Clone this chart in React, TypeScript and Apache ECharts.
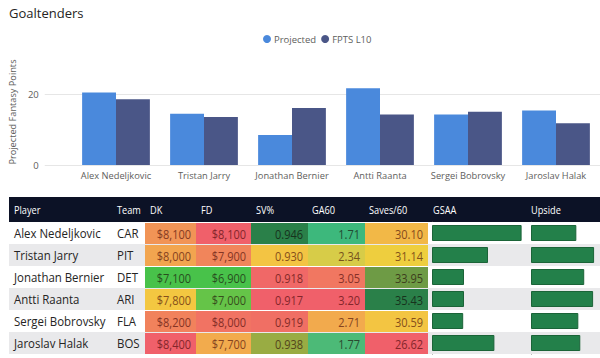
import React, { useEffect, useRef } from 'react';
import * as echarts from 'echarts';

const players = ['Alex Nedeljkovic', 'Tristan Jarry', 'Jonathan Bernier', 'Antti Raanta', 'Sergei Bobrovsky', 'Jaroslav Halak'];
const teams = ['CAR', 'PIT', 'DET', 'ARI', 'FLA', 'BOS'];
const projected = [20.5, 14.5, 8.5, 21.7, 14.3, 15.4];
const fptsL10 = [18.6, 13.6, 16.1, 14.3, 15.1, 11.8];
const dk = [8100, 8000, 7100, 7800, 8200, 8400];
const fd = [8100, 7900, 6900, 7000, 8000, 7700];
const svPct = [0.946, 0.930, 0.918, 0.917, 0.919, 0.938];
const ga60 = [1.71, 2.34, 3.05, 3.20, 2.71, 1.77];
const saves60 = [30.10, 31.14, 33.95, 35.43, 30.59, 26.62];
const gsaa = [5.6, 3.5, 2.0, 2.0, 1.95, 3.9];
const upside = [46, 64, 54, 63, 48, 50];
const headers = ['Player', 'Team', 'DK', 'FD', 'SV%', 'GA60', 'Saves/60', 'GSAA', 'Upside'];

const FONT = "'Segoe UI', 'Open Sans', sans-serif";
const TXT = '#252423';
const AX = '#605e5c';

const money = (v: number) => '$' + Math.floor(v / 1000) + ',' + String(v % 1000).padStart(3, '0');

const RED = '#f0606a';
const YEL = '#f3d03e';
const GRN = '#48c24a';
const DGRN = '#2a8049';
const TEAL = '#3db87c';

const heatCols = [
  { key: 'DK', data: dk, fmt: money, colors: [GRN, YEL, RED], left: 145, width: 51 },
  { key: 'FD', data: fd, fmt: money, colors: [GRN, YEL, RED], left: 196, width: 55 },
  { key: 'SV%', data: svPct, fmt: (v: number) => v.toFixed(3), colors: [RED, YEL, DGRN], left: 251, width: 57 },
  { key: 'GA60', data: ga60, fmt: (v: number) => v.toFixed(2), colors: [TEAL, YEL, RED], left: 308, width: 57 },
  { key: 'Saves/60', data: saves60, fmt: (v: number) => v.toFixed(2), colors: [RED, YEL, DGRN], left: 365, width: 63 },
];

const headerX = [14, 117, 150, 201, 256, 312, 369, 433, 531];

function parseColor(c: string): number[] {
  if (c.startsWith('#')) {
    const h = c.slice(1);
    return [parseInt(h.slice(0, 2), 16), parseInt(h.slice(2, 4), 16), parseInt(h.slice(4, 6), 16)];
  }
  const m = c.match(/[\d.]+/g) || ['0', '0', '0'];
  return [Number(m[0]), Number(m[1]), Number(m[2])];
}
function darken(c: string): string {
  const [r, g, b] = parseColor(c);
  return `rgb(${Math.round(r * 0.55)},${Math.round(g * 0.4)},${Math.round(b * 0.4)})`;
}

export default function App() {
  const ref = useRef<HTMLDivElement>(null);
  useEffect(() => {
    if (!ref.current) return;
    const chart = echarts.init(ref.current, undefined, { renderer: 'svg' });

    const TABLE_TOP = 222;
    const ROW_H = 22;
    const TABLE_H = ROW_H * players.length;

    const grids: any[] = [
      { left: 43, right: 0, top: 59, height: 106 },
      { left: 72, right: 0, top: 59, height: 106 },
      { left: 9, right: 0, top: TABLE_TOP, height: TABLE_H },
      ...heatCols.map((h) => ({ left: h.left, width: h.width, top: TABLE_TOP, height: TABLE_H })),
      { left: 432, width: 96, top: TABLE_TOP, height: TABLE_H },
      { left: 531, right: 0, top: TABLE_TOP, height: TABLE_H },
    ];

    const hiddenCat = (gridIndex: number, data: string[], inverse = false) => ({
      type: 'category', gridIndex, data, show: false, inverse,
    });

    const xAxes: any[] = [
      hiddenCat(0, players),
      {
        type: 'category', gridIndex: 1, data: players,
        axisLine: { show: false }, axisTick: { show: false },
        axisLabel: { color: AX, fontSize: 9.3, margin: 6, fontFamily: FONT, interval: 0 },
      },
      hiddenCat(2, ['row']),
      ...heatCols.map((h, i) => hiddenCat(3 + i, [h.key])),
      { type: 'value', gridIndex: 8, min: 0, max: 6, show: false },
      { type: 'value', gridIndex: 9, min: 0, max: 70, show: false },
    ];

    const barAxisY = (gridIndex: number) => ({
      type: 'category', gridIndex, data: players, inverse: true,
      axisLine: { show: true, lineStyle: { color: '#555', width: 1 } },
      axisTick: { show: false }, axisLabel: { show: false },
    });

    const yAxes: any[] = [
      {
        type: 'value', gridIndex: 0, min: 0, max: 30, interval: 20,
        axisLine: { show: false }, axisTick: { show: false },
        axisLabel: { color: AX, fontSize: 9.5, margin: 6, showMaxLabel: false, fontFamily: FONT },
        splitLine: { show: true, showMaxLine: false, lineStyle: { color: '#e6e6e6', width: 1 } },
        name: 'Projected Fantasy Points', nameLocation: 'middle', nameGap: 26,
        nameTextStyle: { color: AX, fontSize: 9.2, fontFamily: FONT },
      },
      { type: 'value', gridIndex: 1, min: 0, max: 30, show: false },
      hiddenCat(2, players, true),
      ...heatCols.map((h, i) => hiddenCat(3 + i, players, true)),
      barAxisY(8),
      barAxisY(9),
    ];

    const cellText = (text: string, x: number, y: number, align: string, fill: string, fontSize: number, sx: number) => ({
      type: 'text', x, y, scaleX: sx,
      style: { text, x: 0, y: 0, verticalAlign: 'middle', align, fill, fontSize, fontFamily: FONT },
    });

    const series: any[] = [
      {
        type: 'bar', name: 'Projected', xAxisIndex: 1, yAxisIndex: 1, data: projected,
        itemStyle: { color: '#4a89dc' }, barGap: '0%', barCategoryGap: '23%',
      },
      {
        type: 'bar', name: 'FPTS L10', xAxisIndex: 1, yAxisIndex: 1, data: fptsL10,
        itemStyle: { color: '#4a5687' }, barGap: '0%', barCategoryGap: '23%',
      },
      {
        type: 'custom', name: 'rows', xAxisIndex: 2, yAxisIndex: 2, z: 1,
        data: players.map((_, i) => [0, i]),
        renderItem: (params: any, api: any) => {
          const idx = params.dataIndex;
          const c = api.coord([0, api.value(1)]);
          const s = api.size([1, 1]);
          const x0 = c[0] - s[0] / 2;
          const y0 = c[1] - s[1] / 2;
          return {
            type: 'group',
            children: [
              { type: 'rect', shape: { x: x0, y: y0, width: s[0], height: s[1] }, style: { fill: idx % 2 === 1 ? '#e9e9eb' : '#ffffff' } },
              cellText(players[idx], x0 + 5, c[1] + 0.5, 'left', TXT, 13, 0.88),
              cellText(teams[idx], x0 + 108, c[1] + 0.5, 'left', TXT, 13, 0.88),
            ],
          };
        },
      },
      ...heatCols.map((h, i) => ({
        type: 'custom', name: h.key, xAxisIndex: 3 + i, yAxisIndex: 3 + i, z: 2,
        data: h.data.map((v, r) => [0, r, v]),
        encode: { x: 0, y: 1 },
        renderItem: (params: any, api: any) => {
          const c = api.coord([0, api.value(1)]);
          const s = api.size([1, 1]);
          const x0 = c[0] - s[0] / 2;
          const y0 = c[1] - s[1] / 2;
          const color = api.visual('color');
          return {
            type: 'group',
            children: [
              { type: 'rect', shape: { x: x0, y: y0 + 1, width: s[0], height: s[1] - 1 }, style: { fill: color } },
              cellText(h.fmt(api.value(2)), x0 + s[0] - 5, c[1] + 0.5, 'right', darken(color), 12.5, 0.88),
            ],
          };
        },
      })),
      {
        type: 'bar', name: 'GSAA', xAxisIndex: 8, yAxisIndex: 8, data: gsaa, barWidth: 16,
        itemStyle: { color: '#23804a', borderColor: '#1b6438', borderWidth: 1 },
      },
      {
        type: 'bar', name: 'Upside', xAxisIndex: 9, yAxisIndex: 9, data: upside, barWidth: 16,
        itemStyle: { color: '#23804a', borderColor: '#1b6438', borderWidth: 1 },
      },
    ];

    const visualMaps = heatCols.map((h, i) => ({
      type: 'continuous', show: false, seriesIndex: 3 + i, dimension: 2,
      min: Math.min(...h.data), max: Math.max(...h.data),
      inRange: { color: h.colors },
    }));

    const graphic: any[] = [
      { type: 'rect', shape: { x: 9, y: 197, width: 591, height: 25 }, style: { fill: '#0c1226' } },
      ...headers.map((t, i) => ({
        type: 'text', x: headerX[i], y: 209.5, scaleX: 0.8,
        style: { text: t, x: 0, y: 0, fill: '#ffffff', fontSize: 11.5, fontFamily: FONT, verticalAlign: 'middle', align: 'left' },
      })),
    ];

    chart.setOption({
      animation: false,
      backgroundColor: '#ffffff',
      textStyle: { fontFamily: FONT },
      title: {
        text: 'Goaltenders', left: 9, top: 6, padding: 0,
        textStyle: { fontSize: 13, fontWeight: 'normal', color: TXT, fontFamily: FONT },
      },
      legend: {
        data: ['Projected', 'FPTS L10'], left: 263, top: 34, padding: 0,
        icon: 'circle', itemWidth: 8, itemHeight: 8, itemGap: 5,
        textStyle: { fontSize: 9.5, color: AX, fontFamily: FONT, padding: [0, 0, 0, -2] },
      },
      grid: grids,
      xAxis: xAxes,
      yAxis: yAxes,
      visualMap: visualMaps,
      series,
      graphic,
    });
    return () => chart.dispose();
  }, []);

  return <div ref={ref} style={{ position: 'fixed', left: 0, top: 0, width: 600, height: 358 }} />;
}
